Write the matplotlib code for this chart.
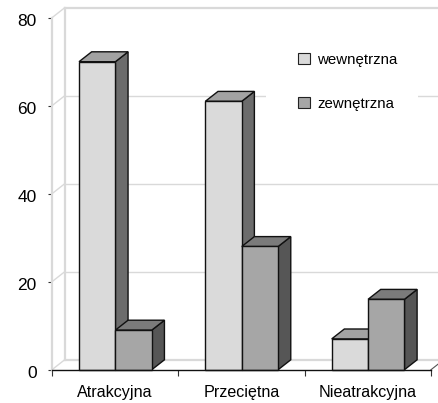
import matplotlib

matplotlib.use("Agg")
import matplotlib.pyplot as plt
from matplotlib.patches import Patch, Rectangle
from matplotlib.transforms import ScaledTranslation

categories = ["Atrakcyjna", "Przeciętna", "Nieatrakcyjna"]
series_names = ["wewnętrzna", "zewnętrzna"]
wewnetrzna = [70, 61, 7]
zewnetrzna = [9, 28, 16]
y_ticks = [0, 20, 40, 60, 80]

WIDTH, HEIGHT = 438, 403
BAR_W = 0.288
BAR_START = 0.214
DX = 0.1  # 3D depth, x units
DY = 2.25  # 3D depth, y units
WALL = "#d9d9d9"
FACES = [
    ("#dadada", "#a2a2a2", "#6c6c6c"),
    ("#a6a6a6", "#7b7b7b", "#565656"),
]

plt.rcParams["font.family"] = ["Liberation Sans", "DejaVu Sans"]


def draw_bar(ax, x, value, colors):
    front, top, side = colors
    edge = dict(edgecolor="#111111", linewidth=1.0, joinstyle="miter", clip_on=False)
    ax.fill([x + BAR_W, x + BAR_W + DX, x + BAR_W + DX, x + BAR_W],
            [0, DY, value + DY, value], facecolor=side, zorder=3, **edge)
    ax.fill([x, x + DX, x + BAR_W + DX, x + BAR_W],
            [value, value + DY, value + DY, value], facecolor=top, zorder=3, **edge)
    ax.fill([x, x + BAR_W, x + BAR_W, x],
            [0, 0, value, value], facecolor=front, zorder=3, **edge)


fig = plt.figure(figsize=(WIDTH / 100, HEIGHT / 100), dpi=100)
ax = fig.add_axes([52 / WIDTH, 1 - 369.7 / HEIGHT, 379 / WIDTH, 352 / HEIGHT])
ax.set_xlim(0, 3)
ax.set_ylim(0, 80)

# back wall and grid
for v in y_ticks:
    lw = 1.6 if v in (0, 80) else 1.0
    ax.plot([DX, 3.1], [v + DY, v + DY], color=WALL, lw=lw, clip_on=False, zorder=1)
    ax.plot([0, DX], [v, v + DY], color=WALL, lw=1.0, clip_on=False, zorder=1)
ax.plot([DX, DX], [DY, 80 + DY], color=WALL, lw=1.6, clip_on=False, zorder=1)
ax.plot([3, 3.1], [0, DY], color="#555555", lw=0.8, clip_on=False, zorder=1)

# legend area hides the grid line behind it
ax.add_patch(Rectangle((0.68, 1 - 125 / HEIGHT), 0, 0, visible=False))
ax.add_patch(Rectangle((266, HEIGHT - 125), 152, 60, transform=None,
                       facecolor="white", edgecolor="none", zorder=2))

for i in range(len(categories)):
    for j, values in enumerate((wewnetrzna, zewnetrzna)):
        draw_bar(ax, i + BAR_START + j * BAR_W, values[i], FACES[j])

for name in ("top", "right"):
    ax.spines[name].set_visible(False)
ax.spines["left"].set_color(WALL)
ax.spines["left"].set_linewidth(1.6)
ax.spines["bottom"].set_color("#111111")
ax.spines["bottom"].set_linewidth(1.0)
ax.spines["bottom"].set_zorder(4)

ax.set_yticks(y_ticks)
ax.tick_params(axis="y", length=3, width=0.8, color="#333333", labelsize=12.5, pad=8)
for label in ax.get_yticklabels():
    label.set_transform(label.get_transform()
                        + ScaledTranslation(0, -2.5 / 100, fig.dpi_scale_trans))
ax.set_xticks(range(len(categories) + 1))
ax.set_xticklabels([])
ax.set_xticks([i + 0.5 for i in range(len(categories))], minor=True)
ax.set_xticklabels(categories, minor=True)
ax.tick_params(axis="x", which="major", length=4.3, width=0.8, color="#333333")
ax.tick_params(axis="x", which="minor", length=0, labelsize=11.6, pad=11)

handles = [
    Patch(facecolor=FACES[j][0], edgecolor="#222222", linewidth=0.8)
    for j in range(len(series_names))
]
fig.legend(handles, series_names, loc="upper left",
           bbox_to_anchor=(297.5 / WIDTH, 1 - 53 / HEIGHT), frameon=False,
           fontsize=10.8, borderpad=0, borderaxespad=0, handlelength=0.8,
           handleheight=0.75, handletextpad=0.5, labelspacing=2.0)

fig.savefig("out.png", dpi=100)
